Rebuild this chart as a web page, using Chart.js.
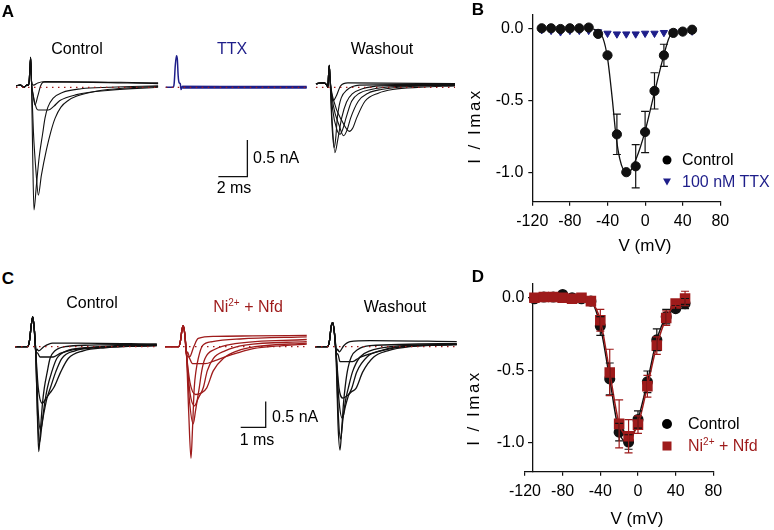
<!DOCTYPE html>
<html>
<head>
<meta charset="utf-8">
<script src="https://cdn.jsdelivr.net/npm/chart.js@4.4.1/dist/chart.umd.min.js"></script>
<style>
  body { margin: 0; background: #fff; }
  #fig { position: relative; width: 774px; height: 530px; overflow: hidden; font-family: "Liberation Sans", Arial, sans-serif; color: #000; }
  #fig canvas { position: absolute; }
  .lbl { position: absolute; font-size: 16px; line-height: 1; white-space: nowrap; }
  .c { transform: translate(-50%, -50%); }
  .l { transform: translate(0, -50%); }
  .rot { transform: translate(-50%, -50%) rotate(-90deg); font-size: 17px; letter-spacing: 2.5px; }
  .ttl { font-size: 17px; }
  .panel { font-weight: bold; font-size: 17px; }
  .navy { color: #1e1e8a; }
  .red { color: #9e1b1b; }
  sup { font-size: 10px; vertical-align: 6px; line-height: 0; }
  .mk { position: absolute; transform: translate(-50%, -50%); }
</style>
</head>
<body>
<div id="fig">
  <canvas id="trA" width="470" height="230" style="left:0;top:0"></canvas>
  <canvas id="trC" width="470" height="190" style="left:0;top:290px"></canvas>
  <canvas id="ivB" width="314" height="260" style="left:460px;top:0"></canvas>
  <canvas id="ivD" width="314" height="270" style="left:460px;top:260px"></canvas>

  <div class="lbl c panel" style="left:8px;top:11px">A</div>
  <div class="lbl c" style="left:77px;top:49px">Control</div>
  <div class="lbl c navy" style="left:232px;top:49px">TTX</div>
  <div class="lbl c" style="left:382px;top:49px">Washout</div>
  <div class="lbl l" style="left:253px;top:158px">0.5 nA</div>
  <div class="lbl c" style="left:234px;top:188px">2 ms</div>

  <div class="lbl c panel" style="left:478px;top:9px">B</div>
  <div class="lbl rot" style="left:474px;top:126px">I / Imax</div>
  <div class="lbl c ttl" style="left:645px;top:245px">V (mV)</div>
  <div class="mk" style="left:667px;top:160px;width:9px;height:9px;border-radius:50%;background:#000"></div>
  <div class="lbl l" style="left:682px;top:160px">Control</div>
  <div class="mk" style="left:667px;top:182px;width:0;height:0;border-left:4px solid transparent;border-right:4px solid transparent;border-top:7px solid #1e1e8a"></div>
  <div class="lbl l navy" style="left:682px;top:182px">100 nM TTX</div>

  <div class="lbl c panel" style="left:8px;top:278px">C</div>
  <div class="lbl c" style="left:92px;top:303px">Control</div>
  <div class="lbl c red" style="left:248px;top:307px">Ni<sup>2+</sup> + Nfd</div>
  <div class="lbl c" style="left:395px;top:307px">Washout</div>
  <div class="lbl l" style="left:272px;top:417px">0.5 nA</div>
  <div class="lbl c" style="left:257px;top:440px">1 ms</div>

  <div class="lbl c panel" style="left:478px;top:276px">D</div>
  <div class="lbl rot" style="left:473px;top:408px">I / Imax</div>
  <div class="lbl c ttl" style="left:637px;top:518px">V (mV)</div>
  <div class="mk" style="left:667px;top:424px;width:10px;height:10px;border-radius:50%;background:#000"></div>
  <div class="lbl l" style="left:688px;top:424px">Control</div>
  <div class="mk" style="left:667px;top:446px;width:9px;height:9px;background:#9e1b1b"></div>
  <div class="lbl l red" style="left:688px;top:446px">Ni<sup>2+</sup> + Nfd</div>
</div>

<script>
// --- current traces: [time from sweep start (ms), current (nA)] ---
const aCtrlOnset = [[0, 0.02], [0.3, 0.03], [0.55, 0.0], [0.75, 0.03], [0.88, 0.03], [0.95, 0.22], [1.01, 0.41], [1.07, 0.08]];
const aCtrlTraces = [
  [[1.15, -0.9], [1.24, -1.67], [1.4, -1.35], [1.6, -0.95], [1.84, -0.63], [2.0, -0.42], [2.2, -0.27], [2.55, -0.15], [3.2, -0.07], [4.5, -0.02], [6.5, 0.0], [9.8, 0.02]],
  [[1.2, -0.6], [1.4, -1.2], [1.54, -1.47], [1.75, -1.2], [2.1, -0.85], [2.41, -0.6], [2.7, -0.42], [3.1, -0.27], [3.6, -0.18], [4.2, -0.12], [5.6, -0.05], [7.5, -0.01], [9.8, 0.01]],
  [[1.2, -0.12], [1.4, -0.28], [1.54, -0.31], [2.23, -0.31], [2.6, -0.26], [3.03, -0.18], [4.18, -0.1], [6.5, -0.04], [9.8, 0.0]],
  [[1.18, -0.1], [1.31, -0.24], [1.5, -0.12], [1.7, 0.02], [1.9, 0.07], [3.5, 0.07], [9.8, 0.05]],
  [[1.2, 0.03], [1.5, 0.06], [2.0, 0.08], [9.8, 0.06]]
];
const aTtxTrace = [[0, 0], [0.5, 0], [0.58, 0.05], [0.66, 0.3], [0.74, 0.43], [0.8, 0.38], [0.86, 0.15], [0.93, 0.06], [1.0, 0.05], [1.06, -0.03], [1.14, 0.01], [9.72, 0.0]];
const aTtxTail = [[1.14, 0.0], [9.72, 0.0]];
const aWashOnset = [[0, 0.05], [0.5, 0.06], [0.75, 0.03], [0.82, 0.0], [0.87, 0.18], [0.92, 0.3], [0.97, 0.12]];
const aWashTraces = [
  [[1.1, -0.5], [1.25, -0.82], [1.36, -0.7], [1.47, -0.42], [1.6, -0.25], [1.75, -0.14], [2.11, -0.04], [3.0, 0.03], [9.59, 0.04]],
  [[1.1, -0.4], [1.31, -0.89], [1.5, -0.72], [1.77, -0.42], [2.11, -0.2], [2.5, -0.09], [3.2, -0.02], [4.5, 0.02], [9.59, 0.03]],
  [[1.15, -0.3], [1.45, -0.58], [1.66, -0.64], [1.85, -0.57], [2.07, -0.42], [2.46, -0.19], [3.0, -0.08], [3.8, -0.03], [5.5, 0.01], [9.59, 0.03]],
  [[1.2, -0.25], [1.6, -0.52], [1.9, -0.66], [2.15, -0.58], [2.39, -0.42], [2.92, -0.19], [3.6, -0.08], [4.5, -0.03], [6.5, 0.01], [9.59, 0.03]],
  [[1.25, -0.2], [1.8, -0.46], [2.3, -0.6], [2.55, -0.55], [2.8, -0.42], [3.38, -0.19], [4.3, -0.08], [5.3, -0.03], [7.2, 0.0], [9.59, 0.02]],
  [[1.05, -0.05], [1.2, -0.18], [1.4, -0.12], [1.7, 0.02], [2.2, 0.06], [9.59, 0.05]]
];

const cCtrlOnset = [[0, 0], [0.5, 0], [0.58, 0.12], [0.65, 0.42], [0.71, 0.58], [0.77, 0.35], [0.83, -0.1]];
const cCtrlTraces = [
  [[0.9, -1.4], [0.95, -2.04], [1.02, -1.6], [1.1, -1.1], [1.17, -0.81], [1.29, -0.49], [1.4, -0.23], [1.6, -0.08], [2.0, 0.0], [3.0, 0.03], [5.67, 0.05]],
  [[0.9, -1.3], [0.98, -1.87], [1.08, -1.5], [1.18, -1.12], [1.29, -0.81], [1.47, -0.49], [1.67, -0.23], [2.07, -0.08], [2.8, -0.02], [4.0, 0.02], [5.67, 0.04]],
  [[0.92, -1.2], [1.02, -1.62], [1.15, -1.3], [1.28, -1.0], [1.43, -0.78], [1.63, -0.49], [1.87, -0.23], [2.4, -0.08], [3.2, -0.02], [4.5, 0.01], [5.67, 0.03]],
  [[0.93, -0.8], [1.09, -1.1], [1.25, -1.0], [1.4, -0.9], [1.57, -0.78], [1.83, -0.49], [2.13, -0.23], [2.73, -0.08], [3.6, -0.02], [5.67, 0.02]],
  [[0.9, -0.12], [1.0, -0.2], [1.53, -0.2], [1.8, -0.13], [2.3, -0.06], [3.0, -0.02], [5.67, 0.02]],
  [[0.88, -0.05], [0.95, -0.08], [1.15, 0.0], [1.5, 0.07], [2.5, 0.07], [5.67, 0.05]]
];
const cNiOnset = [[0, 0], [0.55, 0], [0.62, 0.12], [0.68, 0.33], [0.73, 0.41], [0.79, 0.25], [0.86, -0.15]];
const cNiTraces = [
  [[0.95, -1.3], [1.04, -2.17], [1.1, -1.6], [1.17, -0.8], [1.24, -0.47], [1.33, -0.23], [1.5, 0.02], [1.9, 0.1], [3.0, 0.15], [5.67, 0.19]],
  [[0.97, -1.0], [1.13, -1.5], [1.22, -1.25], [1.37, -0.8], [1.47, -0.47], [1.6, -0.23], [2.0, -0.05], [2.8, 0.06], [5.67, 0.14]],
  [[1.0, -0.9], [1.18, -1.15], [1.33, -1.0], [1.53, -0.8], [1.69, -0.47], [1.93, -0.23], [2.4, -0.08], [3.2, 0.03], [5.67, 0.1]],
  [[1.0, -0.7], [1.22, -0.93], [1.45, -0.9], [1.67, -0.8], [1.93, -0.47], [2.33, -0.23], [2.9, -0.08], [3.6, 0.0], [5.67, 0.07]],
  [[0.95, -0.2], [1.1, -0.33], [1.6, -0.33], [2.0, -0.27], [2.4, -0.2], [2.9, -0.12], [3.4, -0.05], [4.2, 0.0], [5.67, 0.05]],
  [[0.9, -0.1], [0.98, -0.2], [1.15, 0.0], [1.33, 0.16], [2.0, 0.2], [3.5, 0.21], [5.67, 0.22]]
];
const cWashOnset = [[0, 0], [0.5, 0], [0.58, 0.12], [0.65, 0.4], [0.71, 0.47], [0.77, 0.3], [0.84, -0.1]];
const cWashTraces = [
  [[0.92, -1.5], [1.0, -2.01], [1.07, -1.6], [1.14, -1.1], [1.2, -0.81], [1.29, -0.49], [1.45, -0.2], [1.7, -0.06], [2.2, 0.02], [5.67, 0.06]],
  [[0.93, -1.3], [1.02, -1.8], [1.12, -1.4], [1.22, -1.05], [1.33, -0.81], [1.5, -0.49], [1.8, -0.2], [2.2, -0.08], [3.0, 0.0], [5.67, 0.05]],
  [[0.95, -1.0], [1.09, -1.39], [1.22, -1.15], [1.34, -0.95], [1.47, -0.81], [1.67, -0.49], [2.1, -0.19], [2.6, -0.08], [3.4, 0.0], [5.67, 0.04]],
  [[0.96, -0.8], [1.12, -1.0], [1.3, -0.95], [1.45, -0.88], [1.64, -0.81], [1.91, -0.49], [2.35, -0.2], [2.9, -0.08], [3.8, 0.0], [5.67, 0.04]],
  [[0.92, -0.15], [1.0, -0.29], [1.5, -0.29], [1.75, -0.22], [2.2, -0.14], [2.8, -0.06], [3.6, 0.0], [5.67, 0.05]],
  [[0.9, -0.05], [0.97, -0.1], [1.15, 0.02], [1.4, 0.1], [2.2, 0.12], [5.67, 0.1]]
];

// scale bars (ms, nA)
const barA = { dt: 2, di: 0.5 };
const barC = { dt: 1, di: 0.5 };

// --- I-V data ---
const volts = [-110, -100, -90, -80, -70, -60, -50, -40, -30, -20, -10, 0, 10, 20, 30, 40, 50];
const bControl = [0.005, 0.005, 0, 0.005, 0.005, 0.01, -0.034, -0.183, -0.732, -0.995, -0.954, -0.716, -0.43, -0.183, -0.027, -0.018, -0.005];
const bControlErr = [0, 0, 0, 0, 0, 0, 0, 0, 0.14, 0, 0.15, 0.143, 0.126, 0.077, 0, 0, 0];
const bTtx = [-0.005, -0.01, -0.02, -0.01, -0.01, -0.01, -0.02, -0.03, -0.035, -0.035, -0.035, -0.03, -0.03, -0.025, -0.02, -0.02, -0.015];
const bFitV = [-55, -50, -45, -40, -35, -31, -27, -23, -20, -15, -10, -5, 0, 10, 20, 25, 30, 32];
const bFitI = [0, -0.02, -0.06, -0.2, -0.48, -0.74, -0.9, -0.98, -1.0, -0.98, -0.91, -0.82, -0.71, -0.44, -0.18, -0.07, -0.01, 0];
const dControl = [-0.007, 0.005, 0.005, 0.023, 0, -0.007, -0.023, -0.195, -0.56, -0.927, -0.995, -0.84, -0.58, -0.29, -0.13, -0.075, -0.04];
const dControlErr = [0, 0, 0, 0, 0, 0, 0, 0.065, 0.11, 0.06, 0.05, 0.06, 0.075, 0.075, 0.05, 0.02, 0.035];
const dNi = [0, 0.005, 0.005, 0, -0.007, 0, -0.023, -0.155, -0.515, -0.87, -0.955, -0.875, -0.61, -0.33, -0.14, -0.04, -0.005];
const dNiErr = [0, 0, 0, 0, 0, 0, 0, 0.075, 0.16, 0.165, 0.115, 0.06, 0.075, 0.06, 0.05, 0.02, 0.05];
const ivTicksY = [-1, -0.5, 0];

const NAVY = '#1e1e8a';
const RED = '#9e1b1b';
const INK = '#111';

Chart.defaults.font.family = '"Liberation Sans", Arial, sans-serif';
Chart.defaults.font.size = 16;
Chart.defaults.color = '#000';

function sweep(onset, trace, offset, color, width) {
  return {
    data: onset.concat(trace).map(p => ({ x: p[0] + offset, y: p[1] })),
    borderColor: color,
    borderWidth: width || 1.1,
    pointRadius: 0,
    cubicInterpolationMode: 'monotone',
    fill: false
  };
}

function zeroLine(offset, len) {
  return {
    data: [{ x: offset, y: 0 }, { x: offset + len, y: 0 }],
    borderColor: RED, borderWidth: 1.3, borderDash: [1.5, 4.5], pointRadius: 0
  };
}

function scaleBar(corner, bar) {
  return {
    data: [{ x: corner[0] - bar.dt, y: corner[1] }, { x: corner[0], y: corner[1] }, { x: corner[0], y: corner[1] + bar.di }],
    borderColor: INK, borderWidth: 1.3, pointRadius: 0, tension: 0
  };
}

function traceChart(id, box, datasets) {
  return new Chart(document.getElementById(id), {
    type: 'line',
    data: { datasets },
    options: {
      responsive: false, animation: false, events: [], devicePixelRatio: 1,
      layout: { padding: 0 },
      plugins: { legend: { display: false }, tooltip: { enabled: false } },
      scales: {
        x: { type: 'linear', display: false, min: 0, max: box.w / box.perMs },
        y: { display: false, min: -(box.h - box.base) / box.perNa, max: box.base / box.perNa }
      }
    }
  });
}

// panel A: 14.5 px per ms, 73.4 px per nA
const boxA = { w: 470, h: 230, perMs: 14.5, perNa: 73.4, base: 87.3 };
const offA = { ctrl: 1.103, ttx: 11.43, wash: 21.79 };
const dsA = [];
dsA.push(zeroLine(offA.ctrl, 9.8), zeroLine(offA.ttx, 9.72), zeroLine(offA.wash, 9.59));
aCtrlTraces.forEach(t => dsA.push(sweep(aCtrlOnset, t, offA.ctrl, INK)));
dsA.push(sweep([], aTtxTrace, offA.ttx, NAVY, 1.5));
dsA.push(sweep([], aTtxTail, offA.ttx, NAVY, 3));
aWashTraces.forEach(t => dsA.push(sweep(aWashOnset, t, offA.wash, INK)));
dsA.push(scaleBar([17.06, -1.218], barA));
traceChart('trA', boxA, dsA);

// panel C: 25 px per ms, 51.4 px per nA
const boxC = { w: 470, h: 190, perMs: 25, perNa: 51.4, base: 56.7 };
const offC = { ctrl: 0.6, ni: 6.6, wash: 12.6 };
const dsC = [];
dsC.push(zeroLine(offC.ctrl, 5.67), zeroLine(offC.ni, 5.67), zeroLine(offC.wash, 5.67));
cCtrlTraces.forEach(t => dsC.push(sweep(cCtrlOnset, t, offC.ctrl, INK, 1.3)));
cNiTraces.forEach(t => dsC.push(sweep(cNiOnset, t, offC.ni, RED, 1.3)));
cWashTraces.forEach(t => dsC.push(sweep(cWashOnset, t, offC.wash, INK, 1.3)));
dsC.push(scaleBar([10.628, -1.568], barC));
traceChart('trC', boxC, dsC);

// error bars for the I-V plots
const errorBars = {
  id: 'errorBars',
  afterDatasetsDraw(chart) {
    const { ctx, scales: { x, y } } = chart;
    chart.data.datasets.slice().reverse().forEach(ds => {
      if (!ds.errors) return;
      ctx.save();
      ctx.strokeStyle = ds.borderColor;
      ctx.lineWidth = 1.2;
      ds.data.forEach((p, i) => {
        const e = ds.errors[i];
        if (!e) return;
        const px = x.getPixelForValue(p.x);
        const top = y.getPixelForValue(p.y + e);
        const bot = y.getPixelForValue(p.y - e);
        ctx.beginPath();
        ctx.moveTo(px, top); ctx.lineTo(px, bot);
        ctx.moveTo(px - 4, top); ctx.lineTo(px + 4, top);
        ctx.moveTo(px - 4, bot); ctx.lineTo(px + 4, bot);
        ctx.stroke();
      });
      ctx.restore();
    });
  }
};

const pts = vals => volts.map((v, i) => ({ x: v, y: vals[i] }));

function ivScales(yPos, yLabelPad) {
  const axisLine = { color: INK, width: 1.3 };
  const tickGrid = { drawOnChartArea: false, drawTicks: true, tickLength: 4, color: INK, lineWidth: 1.2 };
  return {
    x: {
      type: 'linear', min: -120, max: 80,
      border: axisLine, grid: tickGrid,
      ticks: { stepSize: 40, padding: 6, color: '#000', maxRotation: 0, minRotation: 0, autoSkip: false },
      afterFit: s => { s.height = 58.3; }
    },
    y: {
      position: yPos, min: -1.2, max: 0.1,
      border: axisLine, grid: tickGrid,
      afterBuildTicks: s => { s.ticks = ivTicksY.map(v => ({ value: v })); },
      ticks: { padding: 5, color: '#000', callback: v => v.toFixed(1) + yLabelPad },
      afterFit: s => { s.width = 72.3; }
    }
  };
}

new Chart(document.getElementById('ivB'), {
  type: 'line',
  data: {
    datasets: [
      { data: pts(bControl), errors: bControlErr, showLine: false, pointStyle: 'circle', pointRadius: 4.6,
        backgroundColor: INK, borderColor: INK, order: 0 },
      { data: bFitV.map((v, i) => ({ x: v, y: bFitI[i] })), borderColor: INK, borderWidth: 1.3, pointRadius: 0,
        cubicInterpolationMode: 'monotone', order: 1 },
      { data: pts(bTtx), showLine: false, pointStyle: 'triangle', pointRotation: 180, pointRadius: 4.2,
        backgroundColor: NAVY, borderColor: NAVY, order: 2 }
    ]
  },
  options: {
    responsive: false, animation: false, events: [], devicePixelRatio: 1,
    layout: { padding: { left: 0, top: 13.3, right: 53.7, bottom: 0 } },
    plugins: { legend: { display: false }, tooltip: { enabled: false } },
    scales: ivScales('left', '')
  },
  plugins: [errorBars]
});

new Chart(document.getElementById('ivD'), {
  type: 'line',
  data: {
    datasets: [
      { data: pts(dNi), errors: dNiErr, borderColor: RED, backgroundColor: RED, borderWidth: 1.5,
        pointStyle: 'rect', pointRadius: 6.4, cubicInterpolationMode: 'monotone', order: 0 },
      { data: pts(dControl), errors: dControlErr, borderColor: INK, backgroundColor: INK, borderWidth: 1.5,
        pointStyle: 'circle', pointRadius: 4.8, cubicInterpolationMode: 'monotone', order: 1 }
    ]
  },
  options: {
    responsive: false, animation: false, events: [], devicePixelRatio: 1,
    layout: { padding: { left: 65, top: 23.3, right: 60.7, bottom: 0 } },
    plugins: { legend: { display: false }, tooltip: { enabled: false } },
    scales: ivScales({ x: -112.2 }, '\u2002')
  },
  plugins: [errorBars]
});
</script>
</body>
</html>
